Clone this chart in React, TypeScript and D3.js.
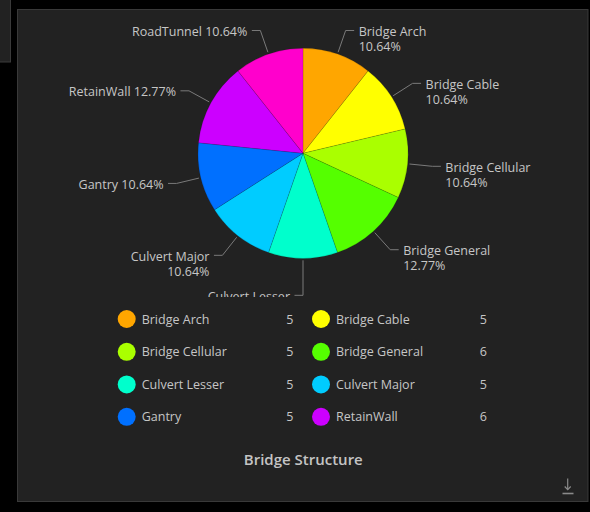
import React, { useEffect, useRef } from "react";
import * as d3 from "d3";

// Structure categories and their counts, in slice order (clockwise from 12 o'clock)
const categories = [
  "Bridge Arch",
  "Bridge Cable",
  "Bridge Cellular",
  "Bridge General",
  "Culvert Lesser",
  "Culvert Major",
  "Gantry",
  "RetainWall",
  "RoadTunnel",
];
const counts = [5, 5, 5, 6, 5, 5, 5, 6, 5];
const sliceColors = [
  "#ffa600",
  "#ffff00",
  "#aaff00",
  "#55ff00",
  "#00ffcc",
  "#00ccff",
  "#0070ff",
  "#cc00ff",
  "#ff00cc",
];
const chartTitle = "Bridge Structure";
// Labels that break the percentage onto a second line
const wrappedLabels = ["Bridge Arch", "Bridge Cable", "Bridge Cellular", "Bridge General", "Culvert Lesser", "Culvert Major"];
// Number of entries visible in the legend grid
const legendVisible = 8;

const W = 590;
const H = 512;
const FONT = "'Open Sans', sans-serif";
const TEXT = "#c6c6c6";

export default function App() {
  const ref = useRef<SVGSVGElement | null>(null);

  useEffect(() => {
    const svg = d3.select(ref.current);
    svg.selectAll("*").remove();

    svg.append("rect").attr("width", W).attr("height", H).attr("fill", "#000");

    // side panel stub
    svg.append("rect").attr("x", -2).attr("y", -2).attr("width", 12.5).attr("height", 64)
      .attr("fill", "#222").attr("stroke", "#3a3a3a");

    // main card
    svg.append("rect").attr("x", 17.5).attr("y", 9.5).attr("width", 570.5).attr("height", 492)
      .attr("fill", "#222").attr("stroke", "#393939");

    const defs = svg.append("defs");
    defs.append("clipPath").attr("id", "plot-clip")
      .append("rect").attr("x", 18).attr("y", 10).attr("width", 569).attr("height", 287);

    const cx = 303, cy = 153.3, R = 105;
    const total = d3.sum(counts);
    const data = categories.map((c, i) => ({ name: c, value: counts[i], color: sliceColors[i] }));

    const pie = d3.pie<any>().sort(null).value((d) => d.value);
    const arcs = pie(data);
    const arc = d3.arc<any>().innerRadius(0).outerRadius(R);

    const plot = svg.append("g").attr("clip-path", "url(#plot-clip)");
    const g = plot.append("g").attr("transform", `translate(${cx},${cy})`);

    g.selectAll("path.slice").data(arcs).join("path")
      .attr("class", "slice")
      .attr("d", arc as any)
      .attr("fill", (d: any) => d.data.color)
      .attr("stroke", "rgba(0,0,0,0.25)")
      .attr("stroke-width", 0.5);

    const pct = d3.format(".2f");
    const lineH = 15;
    const fs = 12.5;

    type Lab = { a: number; name: string; lines: string[]; side: number; x0: number; y0: number; ex: number; ey: number };
    const labs: Lab[] = arcs.map((d: any) => {
      const a = (d.startAngle + d.endAngle) / 2;
      const name = d.data.name;
      const p = pct((d.data.value / total) * 100) + "%";
      const lines = wrappedLabels.includes(name) ? [name, p] : [`${name} ${p}`];
      const s = Math.sin(a);
      const side = s > 0.01 ? 1 : -1;
      return {
        a, name, lines, side,
        x0: Math.sin(a) * (R + 2), y0: -Math.cos(a) * (R + 2),
        ex: Math.sin(a) * 130, ey: -Math.cos(a) * 130,
      };
    });

    // push overlapping labels downward on each side
    [1, -1].forEach((side) => {
      const list = labs.filter((l) => l.side === side).sort((p, q) => p.ey - q.ey);
      let prevBottom = -Infinity;
      list.forEach((l) => {
        const top = l.ey - 7;
        if (top < prevBottom + 10) l.ey = prevBottom + 10 + 7;
        prevBottom = l.ey - 7 + l.lines.length * lineH;
      });
    });

    labs.forEach((l) => {
      const hx = l.ex + l.side * 8.5;
      g.append("path")
        .attr("d", `M${l.x0},${l.y0}L${l.ex},${l.ey}L${hx},${l.ey}`)
        .attr("fill", "none")
        .attr("stroke", "#7a7a7a")
        .attr("stroke-width", 1);
      l.lines.forEach((ln, i) => {
        g.append("text")
          .attr("x", hx + l.side * 4.5)
          .attr("y", l.ey + 5.3 + i * lineH)
          .attr("text-anchor", l.side > 0 ? "start" : "end")
          .attr("font-family", FONT)
          .attr("font-size", fs)
          .attr("fill", TEXT)
          .text(ln);
      });
    });

    // legend grid
    const legend = svg.append("g");
    const colX = [126.7, 321];
    const valX = [293.5, 487];
    const rowY = [319, 351.8, 384.4, 416.8];
    data.slice(0, legendVisible).forEach((d, i) => {
      const c = i % 2, r = Math.floor(i / 2);
      const y = rowY[r];
      legend.append("circle").attr("cx", colX[c]).attr("cy", y).attr("r", 9).attr("fill", d.color);
      legend.append("text").attr("x", colX[c] + 15).attr("y", y + 4.5)
        .attr("font-family", FONT).attr("font-size", fs).attr("fill", TEXT).text(d.name);
      legend.append("text").attr("x", valX[c]).attr("y", y + 4.5).attr("text-anchor", "end")
        .attr("font-family", FONT).attr("font-size", fs).attr("fill", TEXT).text(String(d.value));
    });

    svg.append("text").attr("x", 303.3).attr("y", 464.5)
      .attr("text-anchor", "middle")
      .attr("font-family", FONT).attr("font-size", 15).attr("font-weight", 600)
      .attr("fill", "#c4c4c4").text(chartTitle);

    // download icon
    const ic = svg.append("g").attr("stroke", "#8a8a8a").attr("fill", "none").attr("stroke-width", 1.2);
    ic.append("path").attr("d", "M567.7,478.5V489.5");
    ic.append("path").attr("d", "M564.7,486.5L567.7,489.7L570.7,486.5");
    ic.append("path").attr("d", "M562.5,493.5H573.5").attr("stroke-width", 1.6);
  }, []);

  return (
    <svg
      ref={ref}
      width={W}
      height={H}
      style={{ position: "fixed", left: 0, top: 0, display: "block" }}
    />
  );
}
